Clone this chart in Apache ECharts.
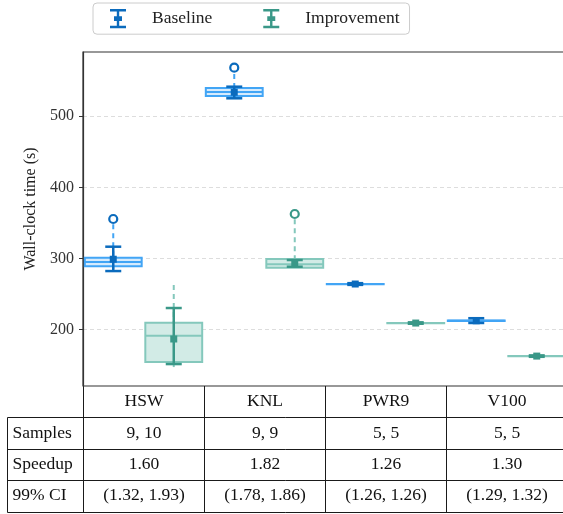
<!DOCTYPE html>
<html>
<head>
  <meta charset="utf-8">
  <title>Wall-clock time</title>
  <script src="https://cdn.jsdelivr.net/npm/echarts@6/dist/echarts.min.js"></script>
  <style>
    html, body { margin: 0; padding: 0; background: #fff; }
    #main { width: 563px; height: 514px; }
  </style>
</head>
<body>
  <div id="main"></div>
  <script type="text/javascript">
    var categories = ['HSW', 'KNL', 'PWR9', 'V100'];

    // box stats: [min, q1, median, q3, max]
    var baselineBox = [
      [285, 289, 295, 301, 348],
      [525, 528.3, 534, 539.5, 559],
      [263.8, 264, 264.2, 264.4, 264.6],
      [212.2, 212.4, 212.6, 212.8, 213]
    ];
    var baselineMean = [299, 533.5, 264.2, 212.6];
    var baselineCI = [[282.4, 316.6], [525, 541.3], [263, 265.4], [209.5, 216.2]];
    var baselineOutliers = [[0, 355.5], [1, 568]];

    var improvementBox = [
      [144.4, 154.6, 191.6, 209.8, 262.7],
      [287, 287, 292, 299.3, 355],
      [209, 209.2, 209.4, 209.6, 209.8],
      [162.6, 162.8, 163, 163.2, 163.4]
    ];
    var improvementMean = [187, 293.5, 209.4, 163];
    var improvementCI = [[151.8, 230.5], [288.5, 297.9], [208.4, 210.4], [162, 164]];
    var improvementOutliers = [[1, 362.5]];

    // table under the plot
    var rowLabels = ['Samples', 'Speedup', '99% CI'];
    var samples = ['9, 10', '9, 9', '5, 5', '5, 5'];
    var speedup = ['1.60', '1.82', '1.26', '1.30'];
    var ci99 = ['(1.32, 1.93)', '(1.78, 1.86)', '(1.26, 1.26)', '(1.29, 1.32)'];

    var FONT = 'Liberation Serif';
    var TXT = 17.5;
    var BOX_W = 0.47;
    var blue = { dark: '#0b6bbd', light: '#42a5f5', pale: '#d6ebfd' };
    var teal = { dark: '#3a9888', light: '#84c8bc', pale: '#d2ebe6' };
    var errIcon = 'path://M0,0H10V1.5H5.75V4.5H7.5V7.5H5.75V10.5H10V12H0V10.5H4.25V7.5H2.5V4.5H4.25V1.5H0Z';

    function buildRows(box, mean, ci) {
      return box.map(function (b, i) {
        return [i].concat(b, [mean[i], ci[i][0], ci[i][1]]);
      });
    }

    function makeRender(offset, c) {
      return function (params, api) {
        var x = api.value(0) + offset;
        var y = function (v) { return api.coord([x, v])[1]; };
        var cx = api.coord([x, 0])[0];
        var hw = api.size([BOX_W, 0])[0] / 2;
        var yMin = y(api.value(1)), yQ1 = y(api.value(2)), yMed = y(api.value(3));
        var yQ3 = y(api.value(4)), yMax = y(api.value(5)), yMean = y(api.value(6));
        var yLo = y(api.value(7)), yHi = y(api.value(8));
        var whisker = { stroke: c.light, lineWidth: 2, lineDash: [5, 4] };
        var err = { stroke: c.dark, lineWidth: 2.5 };
        return {
          type: 'group',
          children: [
            { type: 'line', shape: { x1: cx, y1: yMax, x2: cx, y2: yQ3 }, style: whisker },
            { type: 'line', shape: { x1: cx, y1: yQ1, x2: cx, y2: yMin }, style: whisker },
            { type: 'rect', shape: { x: cx - hw, y: yQ3, width: 2 * hw, height: yQ1 - yQ3 },
              style: { fill: c.pale, stroke: c.light, lineWidth: 2 } },
            { type: 'line', shape: { x1: cx - hw, y1: yMed, x2: cx + hw, y2: yMed },
              style: { stroke: c.light, lineWidth: 2 } },
            { type: 'line', shape: { x1: cx, y1: yLo, x2: cx, y2: yHi }, style: err },
            { type: 'line', shape: { x1: cx - 8, y1: yLo, x2: cx + 8, y2: yLo }, style: err },
            { type: 'line', shape: { x1: cx - 8, y1: yHi, x2: cx + 8, y2: yHi }, style: err },
            { type: 'rect', shape: { x: cx - 3.5, y: yMean - 3.5, width: 7, height: 7 }, style: { fill: c.dark } }
          ]
        };
      };
    }

    var myChart = echarts.init(document.getElementById('main'));

    var option = {
      animation: false,
      backgroundColor: '#fff',
      textStyle: { fontFamily: FONT },
      legend: {
        left: 93, top: 3,
        padding: [6, 10, 6, 17],
        itemGap: 51, itemWidth: 16, itemHeight: 20,
        borderColor: '#cccccc', borderWidth: 1, borderRadius: 4,
        textStyle: { fontFamily: FONT, fontSize: TXT, color: '#222', padding: [0, 0, 0, 21] },
        data: [
          { name: 'Baseline', icon: errIcon },
          { name: 'Improvement', icon: errIcon }
        ]
      },
      grid: {
        left: 83, top: 52, width: 484, height: 334,
        show: true, borderColor: '#333', borderWidth: 1.2,
        outerBoundsMode: 'none'
      },
      xAxis: {
        type: 'value', min: 0, max: 4,
        axisLine: { show: false }, axisTick: { show: false },
        axisLabel: { show: false }, splitLine: { show: false }
      },
      yAxis: {
        type: 'value', min: 121, max: 590,
        name: 'Wall-clock time (s)', nameLocation: 'middle', nameGap: 29,
        nameTextStyle: { fontFamily: FONT, fontSize: 16, color: '#222', padding: [0, 0, 0, 20] },
        axisLine: { show: true, lineStyle: { color: '#333', width: 1.2 } },
        axisTick: { show: true, length: 4, lineStyle: { color: '#333' } },
        axisLabel: {
          fontFamily: FONT, fontSize: 16, color: '#333', margin: 9,
          showMinLabel: false, showMaxLabel: false
        },
        splitLine: {
          show: true, showMinLine: false, showMaxLine: false,
          lineStyle: { color: '#dddddd', type: [4, 3] }
        }
      },
      series: [
        {
          name: 'Baseline', type: 'custom', itemStyle: { color: blue.dark },
          renderItem: makeRender(0.25, blue),
          encode: { x: 0, y: [1, 5] },
          data: buildRows(baselineBox, baselineMean, baselineCI), z: 3
        },
        {
          name: 'Improvement', type: 'custom', itemStyle: { color: teal.dark },
          renderItem: makeRender(0.75, teal),
          encode: { x: 0, y: [1, 5] },
          data: buildRows(improvementBox, improvementMean, improvementCI), z: 3
        },
        {
          name: 'Baseline outliers', type: 'scatter', symbol: 'circle', symbolSize: 8, z: 4,
          itemStyle: { color: '#fff', borderColor: blue.dark, borderWidth: 2.2, opacity: 1 },
          data: baselineOutliers.map(function (o) { return [o[0] + 0.25, o[1]]; })
        },
        {
          name: 'Improvement outliers', type: 'scatter', symbol: 'circle', symbolSize: 8, z: 4,
          itemStyle: { color: '#fff', borderColor: teal.dark, borderWidth: 2.2, opacity: 1 },
          data: improvementOutliers.map(function (o) { return [o[0] + 0.75, o[1]]; })
        }
      ]
    };
    myChart.setOption(option);

    // table drawn below the plot, columns follow the x axis
    var tableTop = 386, rowH = 31.4, labelLeft = 7.5;
    var colX = [];
    for (var i = 0; i <= categories.length; i++) {
      colX.push(Math.round(myChart.convertToPixel({ xAxisIndex: 0 }, i)) + 0.5);
    }
    var right = colX[colX.length - 1];
    var lineStyle = { stroke: '#1a1a1a', lineWidth: 1 };
    var textStyle = function (t, x, y, align) {
      return { text: t, x: x, y: y, align: align || 'center', verticalAlign: 'middle',
               fill: '#111', font: TXT + 'px "' + FONT + '"' };
    };
    var g = [];
    var tableRows = [categories, samples, speedup, ci99];
    var nRows = tableRows.length;
    var bottom = Math.round(tableTop + nRows * rowH) + 0.5;
    // horizontal lines
    for (var r = 1; r <= nRows; r++) {
      var yy = Math.round(tableTop + r * rowH) + 0.5;
      g.push({ type: 'line', shape: { x1: labelLeft, y1: yy, x2: right, y2: yy }, style: lineStyle });
    }
    // vertical lines
    colX.forEach(function (x) {
      g.push({ type: 'line', shape: { x1: x, y1: tableTop, x2: x, y2: bottom }, style: lineStyle });
    });
    g.push({ type: 'line', shape: { x1: labelLeft, y1: Math.round(tableTop + rowH) + 0.5, x2: labelLeft, y2: bottom }, style: lineStyle });
    // cell texts
    tableRows.forEach(function (row, r) {
      var cy = tableTop + (r + 0.5) * rowH;
      row.forEach(function (t, c) {
        g.push({ type: 'text', style: textStyle(t, (colX[c] + colX[c + 1]) / 2, cy) });
      });
      if (r > 0) {
        g.push({ type: 'text', style: textStyle(rowLabels[r - 1], labelLeft + 5, cy, 'left') });
      }
    });
    myChart.setOption({ graphic: g });
  </script>
</body>
</html>
